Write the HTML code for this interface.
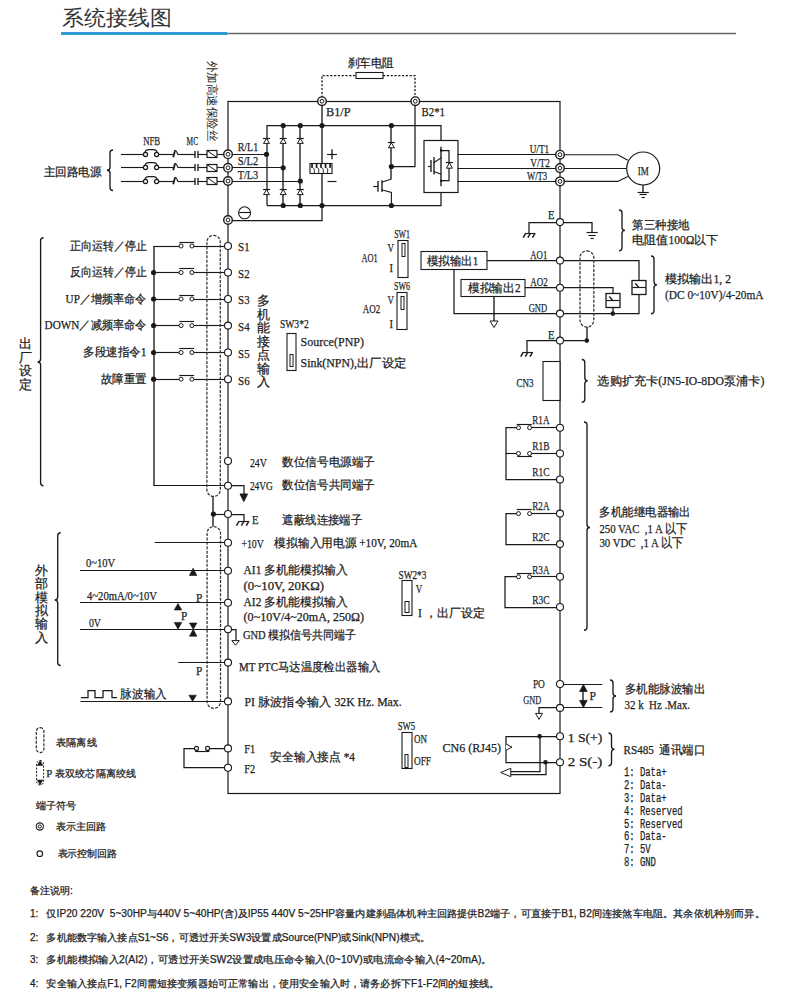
<!DOCTYPE html>
<html><head><meta charset="utf-8"><title>系统接线图</title>
<style>html,body{margin:0;padding:0;background:#fff;} svg{display:block;} text{white-space:pre;}</style>
</head><body>
<svg width="794" height="1003" viewBox="0 0 794 1003">
<rect width="794" height="1003" fill="#fff"/>
<text x="62.3" y="25.2" font-family="Liberation Sans, serif" font-size="20.5" fill="#333" text-anchor="start" font-weight="500" textLength="109.5" lengthAdjust="spacingAndGlyphs" >系统接线图</text>
<rect x="61" y="32" width="166" height="3" fill="#2d9ad6"/>
<line x1="227" y1="33.5" x2="736" y2="33.5" stroke="#666" stroke-width="1.3" />
<rect x="228" y="101.5" width="332" height="692" rx="0" stroke="#1a1a1a" stroke-width="1.2" fill="none" />
<text x="347.5" y="66.8" font-family="Liberation Serif, serif" font-size="12" fill="#1e1e1e" text-anchor="start" font-weight="500" stroke="#1e1e1e" stroke-width="0.25" textLength="46.5" lengthAdjust="spacingAndGlyphs" >刹车电阻</text>
<path d="M 322,101.5 V 75.5 H 356 M 383,75.5 H 415 V 101.5" stroke="#1a1a1a" stroke-width="1.25" fill="none" stroke-linejoin="miter" stroke-dasharray="2.2,1.6"/>
<rect x="356" y="72.5" width="27" height="6" rx="0" stroke="#1a1a1a" stroke-width="1.1" fill="#fff" />
<line x1="121" y1="154.5" x2="143.3" y2="154.5" stroke="#1a1a1a" stroke-width="1.15" />
<circle cx="145.5" cy="154.5" r="2.1" stroke="#1a1a1a" stroke-width="1.2" fill="#fff"/>
<circle cx="156.6" cy="154.5" r="2.1" stroke="#1a1a1a" stroke-width="1.2" fill="#fff"/>
<path d="M144.9,152.4 Q145.8,149.6 148.6,149.6 L153.4,149.6 Q156.3,149.6 157.2,152.4" stroke="#1a1a1a" stroke-width="1.2" fill="none" stroke-linejoin="miter" />
<line x1="158.7" y1="154.5" x2="173" y2="154.5" stroke="#1a1a1a" stroke-width="1.15" />
<path d="M173.2,157.3 L175.1,150.3" stroke="#1a1a1a" stroke-width="1.8" fill="none" stroke-linejoin="miter" />
<path d="M175.1,150.3 Q176.3,150.3 177.8,154.5" stroke="#1a1a1a" stroke-width="1.1" fill="none" stroke-linejoin="miter" />
<line x1="177.8" y1="154.5" x2="195.2" y2="154.5" stroke="#1a1a1a" stroke-width="1.15" />
<line x1="195" y1="150.9" x2="195" y2="158.1" stroke="#1a1a1a" stroke-width="1.35" />
<line x1="198" y1="150.9" x2="198" y2="158.1" stroke="#1a1a1a" stroke-width="1.35" />
<line x1="198.2" y1="154.5" x2="207.4" y2="154.5" stroke="#1a1a1a" stroke-width="1.15" />
<rect x="207" y="150.5" width="10" height="7" rx="0" stroke="#1a1a1a" stroke-width="1.2" fill="#fff" />
<line x1="207" y1="150.5" x2="217" y2="157.5" stroke="#1a1a1a" stroke-width="1.0" />
<line x1="217.4" y1="154.5" x2="224" y2="154.5" stroke="#1a1a1a" stroke-width="1.15" />
<line x1="121" y1="167.5" x2="143.3" y2="167.5" stroke="#1a1a1a" stroke-width="1.15" />
<circle cx="145.5" cy="167.5" r="2.1" stroke="#1a1a1a" stroke-width="1.2" fill="#fff"/>
<circle cx="156.6" cy="167.5" r="2.1" stroke="#1a1a1a" stroke-width="1.2" fill="#fff"/>
<path d="M144.9,165.4 Q145.8,162.6 148.6,162.6 L153.4,162.6 Q156.3,162.6 157.2,165.4" stroke="#1a1a1a" stroke-width="1.2" fill="none" stroke-linejoin="miter" />
<line x1="158.7" y1="167.5" x2="173" y2="167.5" stroke="#1a1a1a" stroke-width="1.15" />
<path d="M173.2,170.3 L175.1,163.3" stroke="#1a1a1a" stroke-width="1.8" fill="none" stroke-linejoin="miter" />
<path d="M175.1,163.3 Q176.3,163.3 177.8,167.5" stroke="#1a1a1a" stroke-width="1.1" fill="none" stroke-linejoin="miter" />
<line x1="177.8" y1="167.5" x2="195.2" y2="167.5" stroke="#1a1a1a" stroke-width="1.15" />
<line x1="195" y1="163.9" x2="195" y2="171.1" stroke="#1a1a1a" stroke-width="1.35" />
<line x1="198" y1="163.9" x2="198" y2="171.1" stroke="#1a1a1a" stroke-width="1.35" />
<line x1="198.2" y1="167.5" x2="207.4" y2="167.5" stroke="#1a1a1a" stroke-width="1.15" />
<rect x="207" y="164.5" width="10" height="7" rx="0" stroke="#1a1a1a" stroke-width="1.2" fill="#fff" />
<line x1="207" y1="164.5" x2="217" y2="171.5" stroke="#1a1a1a" stroke-width="1.0" />
<line x1="217.4" y1="167.5" x2="224" y2="167.5" stroke="#1a1a1a" stroke-width="1.15" />
<line x1="121" y1="181.5" x2="143.3" y2="181.5" stroke="#1a1a1a" stroke-width="1.15" />
<circle cx="145.5" cy="181.5" r="2.1" stroke="#1a1a1a" stroke-width="1.2" fill="#fff"/>
<circle cx="156.6" cy="181.5" r="2.1" stroke="#1a1a1a" stroke-width="1.2" fill="#fff"/>
<path d="M144.9,179.4 Q145.8,176.6 148.6,176.6 L153.4,176.6 Q156.3,176.6 157.2,179.4" stroke="#1a1a1a" stroke-width="1.2" fill="none" stroke-linejoin="miter" />
<line x1="158.7" y1="181.5" x2="173" y2="181.5" stroke="#1a1a1a" stroke-width="1.15" />
<path d="M173.2,184.3 L175.1,177.3" stroke="#1a1a1a" stroke-width="1.8" fill="none" stroke-linejoin="miter" />
<path d="M175.1,177.3 Q176.3,177.3 177.8,181.5" stroke="#1a1a1a" stroke-width="1.1" fill="none" stroke-linejoin="miter" />
<line x1="177.8" y1="181.5" x2="195.2" y2="181.5" stroke="#1a1a1a" stroke-width="1.15" />
<line x1="195" y1="177.9" x2="195" y2="185.1" stroke="#1a1a1a" stroke-width="1.35" />
<line x1="198" y1="177.9" x2="198" y2="185.1" stroke="#1a1a1a" stroke-width="1.35" />
<line x1="198.2" y1="181.5" x2="207.4" y2="181.5" stroke="#1a1a1a" stroke-width="1.15" />
<rect x="207" y="177.5" width="10" height="7" rx="0" stroke="#1a1a1a" stroke-width="1.2" fill="#fff" />
<line x1="207" y1="177.5" x2="217" y2="184.5" stroke="#1a1a1a" stroke-width="1.0" />
<line x1="217.4" y1="181.5" x2="224" y2="181.5" stroke="#1a1a1a" stroke-width="1.15" />
<text x="143.2" y="144.7" font-family="Liberation Serif, serif" font-size="13" fill="#1e1e1e" text-anchor="start" font-weight="500" stroke="#1e1e1e" stroke-width="0.25" textLength="17" lengthAdjust="spacingAndGlyphs" >NFB</text>
<text x="186.6" y="144.7" font-family="Liberation Serif, serif" font-size="13" fill="#1e1e1e" text-anchor="start" font-weight="500" stroke="#1e1e1e" stroke-width="0.25" textLength="11.5" lengthAdjust="spacingAndGlyphs" >MC</text>
<text x="43.5" y="175.5" font-family="Liberation Serif, serif" font-size="12" fill="#1e1e1e" text-anchor="start" font-weight="500" stroke="#1e1e1e" stroke-width="0.25" textLength="58" lengthAdjust="spacingAndGlyphs" >主回路电源</text>
<path d="M113,150 Q110,150 110,153 L110,167.25 Q110,170.25 107,170.25 Q110,170.25 110,173.25 L110,187.5 Q110,190.5 113,190.5" stroke="#1a1a1a" stroke-width="1.35" fill="none" stroke-linejoin="miter" />
<text x="0" y="0" font-family="Liberation Serif, serif" font-size="11.8" fill="#1e1e1e" textLength="81" lengthAdjust="spacingAndGlyphs" transform="translate(208.2,60.5) rotate(90)">外加高速保险丝</text>
<line x1="228" y1="154.5" x2="266.5" y2="154.5" stroke="#1a1a1a" stroke-width="1.15" />
<line x1="228" y1="167.5" x2="283.2" y2="167.5" stroke="#1a1a1a" stroke-width="1.15" />
<line x1="228" y1="181.5" x2="300.3" y2="181.5" stroke="#1a1a1a" stroke-width="1.15" />
<path d="M 267,205.5 V 125.5 H 441 V 140.5" stroke="#1a1a1a" stroke-width="1.25" fill="none" stroke-linejoin="miter" />
<path d="M 267,205.5 H 441 V 192.5" stroke="#1a1a1a" stroke-width="1.25" fill="none" stroke-linejoin="miter" />
<line x1="283" y1="125.5" x2="283" y2="205.5" stroke="#1a1a1a" stroke-width="1.35" />
<line x1="300" y1="125.5" x2="300" y2="205.5" stroke="#1a1a1a" stroke-width="1.35" />
<line x1="322" y1="101" x2="322" y2="205.5" stroke="#1a1a1a" stroke-width="1.35" />
<path d="M263.5,143.4 L269.5,143.4 L266.5,138.4 Z" stroke="#1a1a1a" stroke-width="1.0" fill="#fff" stroke-linejoin="miter" />
<line x1="263" y1="138.5" x2="270" y2="138.5" stroke="#1a1a1a" stroke-width="1.15" />
<path d="M263.5,194.6 L269.5,194.6 L266.5,189.6 Z" stroke="#1a1a1a" stroke-width="1.0" fill="#fff" stroke-linejoin="miter" />
<line x1="263" y1="189.5" x2="270" y2="189.5" stroke="#1a1a1a" stroke-width="1.15" />
<path d="M280.2,143.4 L286.2,143.4 L283.2,138.4 Z" stroke="#1a1a1a" stroke-width="1.0" fill="#fff" stroke-linejoin="miter" />
<line x1="279.7" y1="138.5" x2="286.7" y2="138.5" stroke="#1a1a1a" stroke-width="1.15" />
<path d="M280.2,194.6 L286.2,194.6 L283.2,189.6 Z" stroke="#1a1a1a" stroke-width="1.0" fill="#fff" stroke-linejoin="miter" />
<line x1="279.7" y1="189.5" x2="286.7" y2="189.5" stroke="#1a1a1a" stroke-width="1.15" />
<path d="M297.3,143.4 L303.3,143.4 L300.3,138.4 Z" stroke="#1a1a1a" stroke-width="1.0" fill="#fff" stroke-linejoin="miter" />
<line x1="296.8" y1="138.5" x2="303.8" y2="138.5" stroke="#1a1a1a" stroke-width="1.15" />
<path d="M297.3,194.6 L303.3,194.6 L300.3,189.6 Z" stroke="#1a1a1a" stroke-width="1.0" fill="#fff" stroke-linejoin="miter" />
<line x1="296.8" y1="189.5" x2="303.8" y2="189.5" stroke="#1a1a1a" stroke-width="1.15" />
<circle cx="283.2" cy="125.5" r="2.6" fill="#1a1a1a"/>
<circle cx="283.2" cy="205.5" r="2.6" fill="#1a1a1a"/>
<circle cx="300.3" cy="125.5" r="2.6" fill="#1a1a1a"/>
<circle cx="300.3" cy="205.5" r="2.6" fill="#1a1a1a"/>
<circle cx="322" cy="125.5" r="2.6" fill="#1a1a1a"/>
<circle cx="322" cy="205.5" r="2.6" fill="#1a1a1a"/>
<circle cx="391.4" cy="125.5" r="2.6" fill="#1a1a1a"/>
<circle cx="391.4" cy="205.5" r="2.6" fill="#1a1a1a"/>
<circle cx="266.5" cy="154.3" r="2.6" fill="#1a1a1a"/>
<circle cx="283.2" cy="167.8" r="2.6" fill="#1a1a1a"/>
<circle cx="300.3" cy="181.0" r="2.6" fill="#1a1a1a"/>
<text x="237.7" y="151.2" font-family="Liberation Serif, serif" font-size="13" fill="#1e1e1e" text-anchor="start" font-weight="500" stroke="#1e1e1e" stroke-width="0.25" textLength="20.5" lengthAdjust="spacingAndGlyphs" >R/L1</text>
<text x="237.7" y="164.9" font-family="Liberation Serif, serif" font-size="13" fill="#1e1e1e" text-anchor="start" font-weight="500" stroke="#1e1e1e" stroke-width="0.25" textLength="20.5" lengthAdjust="spacingAndGlyphs" >S/L2</text>
<text x="237.7" y="178.5" font-family="Liberation Serif, serif" font-size="13" fill="#1e1e1e" text-anchor="start" font-weight="500" stroke="#1e1e1e" stroke-width="0.25" textLength="20.5" lengthAdjust="spacingAndGlyphs" >T/L3</text>
<rect x="310" y="163.5" width="22" height="10" rx="0" stroke="#1a1a1a" stroke-width="1.1" fill="#fff" />
<rect x="311.20" y="163.5" width="1.7" height="4.4" fill="#1a1a1a"/>
<rect x="315.70" y="163.5" width="1.7" height="4.4" fill="#1a1a1a"/>
<rect x="320.20" y="163.5" width="1.7" height="4.4" fill="#1a1a1a"/>
<rect x="324.70" y="163.5" width="1.7" height="4.4" fill="#1a1a1a"/>
<rect x="329.20" y="163.5" width="1.7" height="4.4" fill="#1a1a1a"/>
<path d="M313.10,167.6 L314.30,169.2 L314.30,173.3" stroke="#1a1a1a" stroke-width="0.9" fill="none" stroke-linejoin="miter" />
<path d="M317.55,167.6 L318.75,169.2 L318.75,173.3" stroke="#1a1a1a" stroke-width="0.9" fill="none" stroke-linejoin="miter" />
<path d="M322.00,167.6 L323.20,169.2 L323.20,173.3" stroke="#1a1a1a" stroke-width="0.9" fill="none" stroke-linejoin="miter" />
<path d="M326.45,167.6 L327.65,169.2 L327.65,173.3" stroke="#1a1a1a" stroke-width="0.9" fill="none" stroke-linejoin="miter" />
<line x1="327" y1="154.5" x2="337" y2="154.5" stroke="#1a1a1a" stroke-width="1.15" />
<line x1="332" y1="149.3" x2="332" y2="159.3" stroke="#1a1a1a" stroke-width="1.35" />
<line x1="327.5" y1="181.5" x2="336.5" y2="181.5" stroke="#1a1a1a" stroke-width="1.15" />
<circle cx="244.6" cy="212.8" r="6" stroke="#1a1a1a" stroke-width="1.1" fill="none"/>
<line x1="239.2" y1="212.5" x2="250" y2="212.5" stroke="#1a1a1a" stroke-width="1.15" />
<path d="M 228,220.5 H 322 V 205.5" stroke="#1a1a1a" stroke-width="1.25" fill="none" stroke-linejoin="miter" />
<line x1="391" y1="125.5" x2="391" y2="179.1" stroke="#1a1a1a" stroke-width="1.35" />
<path d="M388.4,147.8 L394.4,147.8 L391.4,142.8 Z" stroke="#1a1a1a" stroke-width="1.0" fill="#fff" stroke-linejoin="miter" />
<line x1="387.9" y1="142.5" x2="394.9" y2="142.5" stroke="#1a1a1a" stroke-width="1.15" />
<circle cx="391.4" cy="166.5" r="2.6" fill="#1a1a1a"/>
<path d="M 391,166.5 H 415 V 101.5" stroke="#1a1a1a" stroke-width="1.25" fill="none" stroke-linejoin="miter" />
<path d="M391.4,179.1 L381.6,182.2" stroke="#1a1a1a" stroke-width="1.1" fill="none" stroke-linejoin="miter" />
<path d="M381.6,189.8 L391.4,192.4 V205.5" stroke="#1a1a1a" stroke-width="1.1" fill="none" stroke-linejoin="miter" />
<line x1="382" y1="180.3" x2="382" y2="192" stroke="#1a1a1a" stroke-width="1.35" />
<line x1="378" y1="181" x2="378" y2="191.7" stroke="#1a1a1a" stroke-width="1.35" />
<line x1="373.2" y1="186.5" x2="378.3" y2="186.5" stroke="#1a1a1a" stroke-width="1.15" />
<rect x="424" y="140.5" width="34" height="52" rx="0" stroke="#1a1a1a" stroke-width="1.2" fill="#fff" />
<line x1="441" y1="146.8" x2="441" y2="186.2" stroke="#1a1a1a" stroke-width="1.35" />
<line x1="434" y1="157" x2="434" y2="174.5" stroke="#1a1a1a" stroke-width="1.35" />
<line x1="431" y1="160" x2="431" y2="172" stroke="#1a1a1a" stroke-width="1.35" />
<line x1="428" y1="166.5" x2="430.6" y2="166.5" stroke="#1a1a1a" stroke-width="1.15" />
<line x1="433.6" y1="162.7" x2="441.2" y2="157.7" stroke="#1a1a1a" stroke-width="1.1" />
<line x1="433.6" y1="171.5" x2="441.2" y2="174.2" stroke="#1a1a1a" stroke-width="1.1" />
<circle cx="441.2" cy="150.5" r="1.3" fill="#1a1a1a"/><circle cx="441.2" cy="180.8" r="1.3" fill="#1a1a1a"/>
<path d="M 441,150.5 H 449 V 180.5 H 441" stroke="#1a1a1a" stroke-width="1.25" fill="none" stroke-linejoin="miter" />
<path d="M446.4,168.2 L452.4,168.2 L449.4,162.7 Z" stroke="#1a1a1a" stroke-width="1.0" fill="#fff" stroke-linejoin="miter" />
<line x1="445.9" y1="162.5" x2="452.9" y2="162.5" stroke="#1a1a1a" stroke-width="1.15" />
<line x1="457.6" y1="154.5" x2="560" y2="154.5" stroke="#1a1a1a" stroke-width="1.15" />
<line x1="457.6" y1="168.5" x2="560" y2="168.5" stroke="#1a1a1a" stroke-width="1.15" />
<line x1="457.6" y1="181.5" x2="560" y2="181.5" stroke="#1a1a1a" stroke-width="1.15" />
<circle cx="228" cy="154.3" r="4.3" stroke="#1a1a1a" stroke-width="1.4" fill="#fff"/>
<circle cx="228" cy="154.3" r="1.9" stroke="#1a1a1a" stroke-width="1.0" fill="#fff"/>
<circle cx="228" cy="167.8" r="4.3" stroke="#1a1a1a" stroke-width="1.4" fill="#fff"/>
<circle cx="228" cy="167.8" r="1.9" stroke="#1a1a1a" stroke-width="1.0" fill="#fff"/>
<circle cx="228" cy="181.0" r="4.3" stroke="#1a1a1a" stroke-width="1.4" fill="#fff"/>
<circle cx="228" cy="181.0" r="1.9" stroke="#1a1a1a" stroke-width="1.0" fill="#fff"/>
<circle cx="228" cy="220" r="4.3" stroke="#1a1a1a" stroke-width="1.4" fill="#fff"/>
<circle cx="228" cy="220" r="1.9" stroke="#1a1a1a" stroke-width="1.0" fill="#fff"/>
<circle cx="322" cy="101.2" r="4.3" stroke="#1a1a1a" stroke-width="1.4" fill="#fff"/>
<circle cx="322" cy="101.2" r="1.9" stroke="#1a1a1a" stroke-width="1.0" fill="#fff"/>
<circle cx="415.3" cy="101.2" r="4.3" stroke="#1a1a1a" stroke-width="1.4" fill="#fff"/>
<circle cx="415.3" cy="101.2" r="1.9" stroke="#1a1a1a" stroke-width="1.0" fill="#fff"/>
<circle cx="560" cy="154.7" r="4.3" stroke="#1a1a1a" stroke-width="1.4" fill="#fff"/>
<circle cx="560" cy="154.7" r="1.9" stroke="#1a1a1a" stroke-width="1.0" fill="#fff"/>
<circle cx="560" cy="168.1" r="4.3" stroke="#1a1a1a" stroke-width="1.4" fill="#fff"/>
<circle cx="560" cy="168.1" r="1.9" stroke="#1a1a1a" stroke-width="1.0" fill="#fff"/>
<circle cx="560" cy="181.4" r="4.3" stroke="#1a1a1a" stroke-width="1.4" fill="#fff"/>
<circle cx="560" cy="181.4" r="1.9" stroke="#1a1a1a" stroke-width="1.0" fill="#fff"/>
<text x="326" y="116.2" font-family="Liberation Serif, serif" font-size="13.5" fill="#1e1e1e" text-anchor="start" font-weight="500" stroke="#1e1e1e" stroke-width="0.25" textLength="24.6" lengthAdjust="spacingAndGlyphs" >B1/P</text>
<text x="421.5" y="116.2" font-family="Liberation Serif, serif" font-size="13" fill="#1e1e1e" text-anchor="start" font-weight="500" stroke="#1e1e1e" stroke-width="0.25" textLength="23.5" lengthAdjust="spacingAndGlyphs" >B2*1</text>
<text x="529.7" y="153.1" font-family="Liberation Serif, serif" font-size="13" fill="#1e1e1e" text-anchor="start" font-weight="500" stroke="#1e1e1e" stroke-width="0.25" textLength="19.5" lengthAdjust="spacingAndGlyphs" >U/T1</text>
<text x="530.2" y="166.7" font-family="Liberation Serif, serif" font-size="13" fill="#1e1e1e" text-anchor="start" font-weight="500" stroke="#1e1e1e" stroke-width="0.25" textLength="19.7" lengthAdjust="spacingAndGlyphs" >V/T2</text>
<text x="527" y="179.8" font-family="Liberation Serif, serif" font-size="13" fill="#1e1e1e" text-anchor="start" font-weight="500" stroke="#1e1e1e" stroke-width="0.25" textLength="20.2" lengthAdjust="spacingAndGlyphs" >W/T3</text>
<path d="M564.2,154.7 H617.7 L627.8,160.2" stroke="#1a1a1a" stroke-width="1.1" fill="none" stroke-linejoin="miter" />
<line x1="564.2" y1="168.5" x2="626.7" y2="168.5" stroke="#1a1a1a" stroke-width="1.15" />
<path d="M564.2,181.4 H617.7 L627.8,176.6" stroke="#1a1a1a" stroke-width="1.1" fill="none" stroke-linejoin="miter" />
<circle cx="643.2" cy="168.5" r="16.5" stroke="#1a1a1a" stroke-width="1.2" fill="#fff"/>
<text x="643.2" y="174.8" font-family="Liberation Serif, serif" font-size="13.5" fill="#1e1e1e" text-anchor="middle" font-weight="500" stroke="#1e1e1e" stroke-width="0.25" textLength="11" lengthAdjust="spacingAndGlyphs" >IM</text>
<line x1="643" y1="185" x2="643" y2="192" stroke="#1a1a1a" stroke-width="1.35" />
<line x1="637.6" y1="192.5" x2="648.8" y2="192.5" stroke="#1a1a1a" stroke-width="1.15" />
<line x1="639.6" y1="194.5" x2="646.8" y2="194.5" stroke="#1a1a1a" stroke-width="1.15" />
<line x1="641.6" y1="197.5" x2="644.8" y2="197.5" stroke="#1a1a1a" stroke-width="1.15" />
<path d="M 529,233.5 V 222.5 H 592 V 232.5" stroke="#1a1a1a" stroke-width="1.25" fill="none" stroke-linejoin="miter" />
<line x1="525.1" y1="233.5" x2="535.4" y2="233.5" stroke="#1a1a1a" stroke-width="1.15" />
<line x1="525.6" y1="233.5" x2="523.2" y2="237.7" stroke="#1a1a1a" stroke-width="1.5" />
<line x1="530.25" y1="233.5" x2="527.85" y2="237.7" stroke="#1a1a1a" stroke-width="1.5" />
<line x1="534.9" y1="233.5" x2="532.5" y2="237.7" stroke="#1a1a1a" stroke-width="1.5" />
<line x1="586.5" y1="232.5" x2="597.7" y2="232.5" stroke="#1a1a1a" stroke-width="1.15" />
<line x1="588.5" y1="235.5" x2="595.7" y2="235.5" stroke="#1a1a1a" stroke-width="1.15" />
<line x1="590.5" y1="238.5" x2="593.7" y2="238.5" stroke="#1a1a1a" stroke-width="1.15" />
<circle cx="560" cy="222.1" r="3.5" stroke="#1a1a1a" stroke-width="1.1" fill="#fff"/>
<text x="547.9" y="218.7" font-family="Liberation Serif, serif" font-size="13" fill="#1e1e1e" text-anchor="start" font-weight="500" stroke="#1e1e1e" stroke-width="0.25" textLength="6.5" lengthAdjust="spacingAndGlyphs" >E</text>
<path d="M619,210 Q622,210 622,213 L622,227.4 Q622,230.4 625,230.4 Q622,230.4 622,233.4 L622,247.8 Q622,250.8 619,250.8" stroke="#1a1a1a" stroke-width="1.35" fill="none" stroke-linejoin="miter" />
<text x="632.4" y="228.6" font-family="Liberation Serif, serif" font-size="11.5" fill="#1e1e1e" text-anchor="start" font-weight="500" stroke="#1e1e1e" stroke-width="0.25" textLength="57" lengthAdjust="spacingAndGlyphs" >第三种接地</text>
<text x="632.4" y="244.1" font-family="Liberation Serif, serif" font-size="11.5" fill="#1e1e1e" text-anchor="start" font-weight="500" stroke="#1e1e1e" stroke-width="0.25" textLength="86" lengthAdjust="spacingAndGlyphs" >电阻值100Ω以下</text>
<rect x="421" y="251.5" width="66" height="18" rx="0" stroke="#1a1a1a" stroke-width="1.1" fill="#fff" />
<text x="426.8" y="264.7" font-family="Liberation Serif, serif" font-size="11.5" fill="#1e1e1e" text-anchor="start" font-weight="500" stroke="#1e1e1e" stroke-width="0.25" textLength="51.5" lengthAdjust="spacingAndGlyphs" >模拟输出1</text>
<rect x="461" y="279.5" width="64" height="17" rx="0" stroke="#1a1a1a" stroke-width="1.1" fill="#fff" />
<text x="468" y="292.0" font-family="Liberation Serif, serif" font-size="11.5" fill="#1e1e1e" text-anchor="start" font-weight="500" stroke="#1e1e1e" stroke-width="0.25" textLength="52.5" lengthAdjust="spacingAndGlyphs" >模拟输出2</text>
<path d="M 487,260.5 H 639 V 280.5 M 639,294.5 V 313.5 H 454 V 269.5" stroke="#1a1a1a" stroke-width="1.25" fill="none" stroke-linejoin="miter" />
<path d="M 525,287.5 H 613 V 293.5 M 613,307.5 V 313.5" stroke="#1a1a1a" stroke-width="1.25" fill="none" stroke-linejoin="miter" />
<circle cx="612.8" cy="313.6" r="2.3" fill="#1a1a1a"/>
<rect x="632" y="280.5" width="14" height="14" rx="0" stroke="#1a1a1a" stroke-width="1.3" fill="#fff" />
<line x1="632.4" y1="287.5" x2="645.7" y2="287.5" stroke="#1a1a1a" stroke-width="1.15" />
<path d="M635.3,283.2 L639.0,287.585" stroke="#1a1a1a" stroke-width="1.4" fill="none" stroke-linejoin="miter" />
<rect x="606" y="293.5" width="14" height="14" rx="0" stroke="#1a1a1a" stroke-width="1.3" fill="#fff" />
<line x1="606.3" y1="300.5" x2="619.6" y2="300.5" stroke="#1a1a1a" stroke-width="1.15" />
<path d="M609.1999999999999,296.4 L612.9,300.78499999999997" stroke="#1a1a1a" stroke-width="1.4" fill="none" stroke-linejoin="miter" />
<line x1="494" y1="296.6" x2="494" y2="321" stroke="#1a1a1a" stroke-width="1.35" />
<path d="M490.0,321 L498.0,321 L494,327.5 Z" stroke="#1a1a1a" stroke-width="1.0" fill="#fff" stroke-linejoin="miter" />
<circle cx="560" cy="260.6" r="3.5" stroke="#1a1a1a" stroke-width="1.1" fill="#fff"/>
<circle cx="560" cy="287.8" r="3.5" stroke="#1a1a1a" stroke-width="1.1" fill="#fff"/>
<circle cx="560" cy="313.6" r="3.5" stroke="#1a1a1a" stroke-width="1.1" fill="#fff"/>
<text x="530.3" y="259.2" font-family="Liberation Serif, serif" font-size="13" fill="#1e1e1e" text-anchor="start" font-weight="500" stroke="#1e1e1e" stroke-width="0.25" textLength="17" lengthAdjust="spacingAndGlyphs" >AO1</text>
<text x="530.3" y="286.2" font-family="Liberation Serif, serif" font-size="13" fill="#1e1e1e" text-anchor="start" font-weight="500" stroke="#1e1e1e" stroke-width="0.25" textLength="17.5" lengthAdjust="spacingAndGlyphs" >AO2</text>
<text x="528.7" y="311.5" font-family="Liberation Serif, serif" font-size="13" fill="#1e1e1e" text-anchor="start" font-weight="500" stroke="#1e1e1e" stroke-width="0.25" textLength="18.5" lengthAdjust="spacingAndGlyphs" >GND</text>
<rect x="580" y="250.8" width="13.8" height="76.2" rx="6.899999999999977" stroke="#333" stroke-width="1.25" fill="none" stroke-dasharray="3,1.4"/>
<line x1="587" y1="327" x2="587" y2="340.6" stroke="#1a1a1a" stroke-width="1.35" />
<path d="M651,256 Q654,256 654,259 L654,281.85 Q654,284.85 657,284.85 Q654,284.85 654,287.85 L654,310.7 Q654,313.7 651,313.7" stroke="#1a1a1a" stroke-width="1.35" fill="none" stroke-linejoin="miter" />
<text x="665" y="282.6" font-family="Liberation Serif, serif" font-size="11.5" fill="#1e1e1e" text-anchor="start" font-weight="500" stroke="#1e1e1e" stroke-width="0.25" textLength="66" lengthAdjust="spacingAndGlyphs" >模拟输出1, 2</text>
<text x="665" y="299.3" font-family="Liberation Serif, serif" font-size="13.5" fill="#1e1e1e" text-anchor="start" font-weight="500" stroke="#1e1e1e" stroke-width="0.25" textLength="98.5" lengthAdjust="spacingAndGlyphs" >(DC 0~10V)/4-20mA</text>
<text x="394.2" y="237.6" font-family="Liberation Serif, serif" font-size="12.5" fill="#1e1e1e" text-anchor="start" font-weight="500" stroke="#1e1e1e" stroke-width="0.25" textLength="15.7" lengthAdjust="spacingAndGlyphs" >SW1</text>
<rect x="398" y="240.5" width="10" height="37" rx="0" stroke="#1a1a1a" stroke-width="1.1" fill="#fff" />
<rect x="402" y="243.5" width="3" height="13" rx="0" stroke="#1a1a1a" stroke-width="1.0" fill="#fff" />
<text x="387.5" y="251.5" font-family="Liberation Serif, serif" font-size="13.5" fill="#1e1e1e" text-anchor="start" font-weight="500" stroke="#1e1e1e" stroke-width="0.25" textLength="6.5" lengthAdjust="spacingAndGlyphs" >V</text>
<text x="389.5" y="272.3" font-family="Liberation Serif, serif" font-size="12.5" fill="#1e1e1e" text-anchor="start" font-weight="500" stroke="#1e1e1e" stroke-width="0.25" textLength="3.5" lengthAdjust="spacingAndGlyphs" >I</text>
<text x="361.4" y="261.6" font-family="Liberation Serif, serif" font-size="13" fill="#1e1e1e" text-anchor="start" font-weight="500" stroke="#1e1e1e" stroke-width="0.25" textLength="16.3" lengthAdjust="spacingAndGlyphs" >AO1</text>
<text x="394" y="290" font-family="Liberation Serif, serif" font-size="12.5" fill="#1e1e1e" text-anchor="start" font-weight="500" stroke="#1e1e1e" stroke-width="0.25" textLength="16" lengthAdjust="spacingAndGlyphs" >SW6</text>
<rect x="397" y="292.5" width="10" height="37" rx="0" stroke="#1a1a1a" stroke-width="1.1" fill="#fff" />
<rect x="401" y="296.5" width="3" height="13" rx="0" stroke="#1a1a1a" stroke-width="1.0" fill="#fff" />
<text x="387.5" y="303.8" font-family="Liberation Serif, serif" font-size="13.5" fill="#1e1e1e" text-anchor="start" font-weight="500" stroke="#1e1e1e" stroke-width="0.25" textLength="6.5" lengthAdjust="spacingAndGlyphs" >V</text>
<text x="389.5" y="328.3" font-family="Liberation Serif, serif" font-size="12.5" fill="#1e1e1e" text-anchor="start" font-weight="500" stroke="#1e1e1e" stroke-width="0.25" textLength="3.5" lengthAdjust="spacingAndGlyphs" >I</text>
<text x="362.7" y="313.2" font-family="Liberation Serif, serif" font-size="13" fill="#1e1e1e" text-anchor="start" font-weight="500" stroke="#1e1e1e" stroke-width="0.25" textLength="17.5" lengthAdjust="spacingAndGlyphs" >AO2</text>
<path d="M 527,352.5 V 340.5 H 587" stroke="#1a1a1a" stroke-width="1.25" fill="none" stroke-linejoin="miter" />
<circle cx="586.8" cy="340.6" r="2.3" fill="#1a1a1a"/>
<line x1="522.6" y1="352.5" x2="532.9" y2="352.5" stroke="#1a1a1a" stroke-width="1.15" />
<line x1="523.1" y1="352.5" x2="520.7" y2="356.7" stroke="#1a1a1a" stroke-width="1.5" />
<line x1="527.75" y1="352.5" x2="525.35" y2="356.7" stroke="#1a1a1a" stroke-width="1.5" />
<line x1="532.4" y1="352.5" x2="530" y2="356.7" stroke="#1a1a1a" stroke-width="1.5" />
<circle cx="560" cy="340.6" r="3.5" stroke="#1a1a1a" stroke-width="1.1" fill="#fff"/>
<text x="548" y="338.6" font-family="Liberation Serif, serif" font-size="13" fill="#1e1e1e" text-anchor="start" font-weight="500" stroke="#1e1e1e" stroke-width="0.25" textLength="6.5" lengthAdjust="spacingAndGlyphs" >E</text>
<rect x="543" y="361.5" width="17" height="39" rx="0" stroke="#1a1a1a" stroke-width="1.1" fill="#fff" />
<text x="516.4" y="387.2" font-family="Liberation Serif, serif" font-size="13" fill="#1e1e1e" text-anchor="start" font-weight="500" stroke="#1e1e1e" stroke-width="0.25" textLength="17" lengthAdjust="spacingAndGlyphs" >CN3</text>
<path d="M581.8,359.5 Q584.8,359.5 584.8,362.5 L584.8,377.85 Q584.8,380.85 587.8,380.85 Q584.8,380.85 584.8,383.85 L584.8,399.2 Q584.8,402.2 581.8,402.2" stroke="#1a1a1a" stroke-width="1.35" fill="none" stroke-linejoin="miter" />
<text x="597.4" y="385.4" font-family="Liberation Serif, serif" font-size="11.5" fill="#1e1e1e" text-anchor="start" font-weight="500" stroke="#1e1e1e" stroke-width="0.25" textLength="167" lengthAdjust="spacingAndGlyphs" >选购扩充卡(JN5-IO-8DO泵浦卡)</text>
<path d="M 517,427.5 H 506 V 479.5 H 557" stroke="#1a1a1a" stroke-width="1.25" fill="none" stroke-linejoin="miter" />
<circle cx="518.5" cy="427.7" r="2.0" stroke="#1a1a1a" stroke-width="1.0" fill="#fff"/>
<circle cx="529.6" cy="427.7" r="2.0" stroke="#1a1a1a" stroke-width="1.0" fill="#fff"/>
<line x1="516.7" y1="424.5" x2="531.8" y2="424.5" stroke="#1a1a1a" stroke-width="1.15" />
<line x1="531.6" y1="427.5" x2="556.5" y2="427.5" stroke="#1a1a1a" stroke-width="1.15" />
<line x1="505.8" y1="453.5" x2="516.5" y2="453.5" stroke="#1a1a1a" stroke-width="1.15" />
<circle cx="518.5" cy="453.5" r="2.0" stroke="#1a1a1a" stroke-width="1.0" fill="#fff"/>
<circle cx="529.6" cy="453.5" r="2.0" stroke="#1a1a1a" stroke-width="1.0" fill="#fff"/>
<line x1="517.2" y1="456.5" x2="531.9" y2="456.5" stroke="#1a1a1a" stroke-width="1.15" />
<line x1="531.6" y1="453.5" x2="556.5" y2="453.5" stroke="#1a1a1a" stroke-width="1.15" />
<path d="M 517,513.5 H 506 V 544.5 H 557" stroke="#1a1a1a" stroke-width="1.25" fill="none" stroke-linejoin="miter" />
<circle cx="518.5" cy="513.6" r="2.0" stroke="#1a1a1a" stroke-width="1.0" fill="#fff"/>
<circle cx="529.6" cy="513.6" r="2.0" stroke="#1a1a1a" stroke-width="1.0" fill="#fff"/>
<line x1="516.7" y1="509.5" x2="531.8" y2="509.5" stroke="#1a1a1a" stroke-width="1.15" />
<line x1="531.6" y1="513.5" x2="556.5" y2="513.5" stroke="#1a1a1a" stroke-width="1.15" />
<path d="M 517,576.5 H 505 V 607.5 H 557" stroke="#1a1a1a" stroke-width="1.25" fill="none" stroke-linejoin="miter" />
<circle cx="518.5" cy="576.8" r="2.0" stroke="#1a1a1a" stroke-width="1.0" fill="#fff"/>
<circle cx="529.6" cy="576.8" r="2.0" stroke="#1a1a1a" stroke-width="1.0" fill="#fff"/>
<line x1="516.7" y1="573.5" x2="531.8" y2="573.5" stroke="#1a1a1a" stroke-width="1.15" />
<line x1="531.6" y1="576.5" x2="556.5" y2="576.5" stroke="#1a1a1a" stroke-width="1.15" />
<circle cx="560" cy="427.7" r="3.5" stroke="#1a1a1a" stroke-width="1.1" fill="#fff"/>
<circle cx="560" cy="453.5" r="3.5" stroke="#1a1a1a" stroke-width="1.1" fill="#fff"/>
<circle cx="560" cy="479.5" r="3.5" stroke="#1a1a1a" stroke-width="1.1" fill="#fff"/>
<circle cx="560" cy="513.6" r="3.5" stroke="#1a1a1a" stroke-width="1.1" fill="#fff"/>
<circle cx="560" cy="544.1" r="3.5" stroke="#1a1a1a" stroke-width="1.1" fill="#fff"/>
<circle cx="560" cy="576.8" r="3.5" stroke="#1a1a1a" stroke-width="1.1" fill="#fff"/>
<circle cx="560" cy="607" r="3.5" stroke="#1a1a1a" stroke-width="1.1" fill="#fff"/>
<text x="532.3" y="424.4" font-family="Liberation Serif, serif" font-size="13" fill="#1e1e1e" text-anchor="start" font-weight="500" stroke="#1e1e1e" stroke-width="0.25" textLength="17.2" lengthAdjust="spacingAndGlyphs" >R1A</text>
<text x="532.3" y="450.2" font-family="Liberation Serif, serif" font-size="13" fill="#1e1e1e" text-anchor="start" font-weight="500" stroke="#1e1e1e" stroke-width="0.25" textLength="17.2" lengthAdjust="spacingAndGlyphs" >R1B</text>
<text x="532.3" y="476.2" font-family="Liberation Serif, serif" font-size="13" fill="#1e1e1e" text-anchor="start" font-weight="500" stroke="#1e1e1e" stroke-width="0.25" textLength="17.2" lengthAdjust="spacingAndGlyphs" >R1C</text>
<text x="532.3" y="510.3" font-family="Liberation Serif, serif" font-size="13" fill="#1e1e1e" text-anchor="start" font-weight="500" stroke="#1e1e1e" stroke-width="0.25" textLength="17.2" lengthAdjust="spacingAndGlyphs" >R2A</text>
<text x="532.3" y="540.8000000000001" font-family="Liberation Serif, serif" font-size="13" fill="#1e1e1e" text-anchor="start" font-weight="500" stroke="#1e1e1e" stroke-width="0.25" textLength="17.2" lengthAdjust="spacingAndGlyphs" >R2C</text>
<text x="532.3" y="573.5" font-family="Liberation Serif, serif" font-size="13" fill="#1e1e1e" text-anchor="start" font-weight="500" stroke="#1e1e1e" stroke-width="0.25" textLength="17.2" lengthAdjust="spacingAndGlyphs" >R3A</text>
<text x="532.3" y="603.7" font-family="Liberation Serif, serif" font-size="13" fill="#1e1e1e" text-anchor="start" font-weight="500" stroke="#1e1e1e" stroke-width="0.25" textLength="17.2" lengthAdjust="spacingAndGlyphs" >R3C</text>
<path d="M584,422 Q587,422 587,425 L587,524.5 Q587,527.5 590,527.5 Q587,527.5 587,530.5 L587,627.2 Q587,630.2 584,630.2" stroke="#1a1a1a" stroke-width="1.35" fill="none" stroke-linejoin="miter" />
<text x="599.4" y="516.3" font-family="Liberation Serif, serif" font-size="11.5" fill="#1e1e1e" text-anchor="start" font-weight="500" stroke="#1e1e1e" stroke-width="0.25" textLength="91.5" lengthAdjust="spacingAndGlyphs" >多机能继电器输出</text>
<text x="599.4" y="532.5" font-family="Liberation Serif, serif" font-size="12.5" fill="#1e1e1e" text-anchor="start" font-weight="500" stroke="#1e1e1e" stroke-width="0.25" textLength="88" lengthAdjust="spacingAndGlyphs" >250 VAC  ,1 A 以下</text>
<text x="599.4" y="547.2" font-family="Liberation Serif, serif" font-size="12.5" fill="#1e1e1e" text-anchor="start" font-weight="500" stroke="#1e1e1e" stroke-width="0.25" textLength="84" lengthAdjust="spacingAndGlyphs" >30 VDC  ,1 A 以下</text>
<circle cx="560" cy="684" r="3.5" stroke="#1a1a1a" stroke-width="1.1" fill="#fff"/>
<circle cx="560" cy="707.9" r="3.5" stroke="#1a1a1a" stroke-width="1.1" fill="#fff"/>
<line x1="563.5" y1="684.5" x2="602.4" y2="684.5" stroke="#1a1a1a" stroke-width="1.15" />
<line x1="563.5" y1="707.5" x2="602.4" y2="707.5" stroke="#1a1a1a" stroke-width="1.15" />
<line x1="583" y1="689" x2="583" y2="703" stroke="#1a1a1a" stroke-width="1.35" />
<path d="M583.4,684.5 L579.6,691.5 L587.2,691.5 Z" stroke="#1a1a1a" stroke-width="0.8" fill="#1a1a1a" stroke-linejoin="miter" />
<path d="M583.4,707.4 L579.6,700.4 L587.2,700.4 Z" stroke="#1a1a1a" stroke-width="0.8" fill="#1a1a1a" stroke-linejoin="miter" />
<text x="589.5" y="700.4" font-family="Liberation Serif, serif" font-size="13" fill="#1e1e1e" text-anchor="start" font-weight="500" stroke="#1e1e1e" stroke-width="0.25" textLength="6.5" lengthAdjust="spacingAndGlyphs" >P</text>
<path d="M610,680 Q613,680 613,683 L613,692.95 Q613,695.95 616,695.95 Q613,695.95 613,698.95 L613,708.9 Q613,711.9 610,711.9" stroke="#1a1a1a" stroke-width="1.35" fill="none" stroke-linejoin="miter" />
<text x="624.5" y="693.3" font-family="Liberation Serif, serif" font-size="11.5" fill="#1e1e1e" text-anchor="start" font-weight="500" stroke="#1e1e1e" stroke-width="0.25" textLength="81" lengthAdjust="spacingAndGlyphs" >多机能脉波输出</text>
<text x="624.5" y="709.0" font-family="Liberation Serif, serif" font-size="13" fill="#1e1e1e" text-anchor="start" font-weight="500" stroke="#1e1e1e" stroke-width="0.25" textLength="65.5" lengthAdjust="spacingAndGlyphs" >32 k  Hz .Max.</text>
<text x="532.9" y="688.4" font-family="Liberation Serif, serif" font-size="13" fill="#1e1e1e" text-anchor="start" font-weight="500" stroke="#1e1e1e" stroke-width="0.25" textLength="12" lengthAdjust="spacingAndGlyphs" >PO</text>
<text x="523.2" y="703.6" font-family="Liberation Serif, serif" font-size="13" fill="#1e1e1e" text-anchor="start" font-weight="500" stroke="#1e1e1e" stroke-width="0.25" textLength="18" lengthAdjust="spacingAndGlyphs" >GND</text>
<path d="M 557,707.5 H 539 V 713.5" stroke="#1a1a1a" stroke-width="1.25" fill="none" stroke-linejoin="miter" />
<path d="M535.5,713.4 L542.5,713.4 L539,719.4 Z" stroke="#1a1a1a" stroke-width="1.0" fill="#fff" stroke-linejoin="miter" />
<path d="M 557,736.5 H 506 V 762.5 H 557" stroke="#1a1a1a" stroke-width="1.25" fill="none" stroke-linejoin="miter" />
<path d="M506,744 L512,747.1 L506,750.2" stroke="#1a1a1a" stroke-width="1.0" fill="#fff" stroke-linejoin="miter" />
<circle cx="539.6" cy="736.3" r="2.3" fill="#1a1a1a"/>
<circle cx="545.5" cy="762.2" r="2.3" fill="#1a1a1a"/>
<path d="M 540,736.5 V 771.5 H 509" stroke="#1a1a1a" stroke-width="1.25" fill="none" stroke-linejoin="miter" />
<path d="M 546,762.5 V 774.5 H 509" stroke="#1a1a1a" stroke-width="1.25" fill="none" stroke-linejoin="miter" />
<path d="M510.8,768.3 L500.6,772.5 L510.8,776.7 Z" stroke="#1a1a1a" stroke-width="1.0" fill="#fff" stroke-linejoin="miter" />
<circle cx="560" cy="736.3" r="3.5" stroke="#1a1a1a" stroke-width="1.1" fill="#fff"/>
<circle cx="560" cy="762.2" r="3.5" stroke="#1a1a1a" stroke-width="1.1" fill="#fff"/>
<text x="567.7" y="742.3" font-family="Liberation Serif, serif" font-size="13" fill="#1e1e1e" text-anchor="start" font-weight="500" stroke="#1e1e1e" stroke-width="0.25" textLength="34.7" lengthAdjust="spacingAndGlyphs" >1 S(+)</text>
<text x="567.7" y="766.4" font-family="Liberation Serif, serif" font-size="13" fill="#1e1e1e" text-anchor="start" font-weight="500" stroke="#1e1e1e" stroke-width="0.25" textLength="34.7" lengthAdjust="spacingAndGlyphs" >2 S(-)</text>
<path d="M608.5,733 Q611.5,733 611.5,736 L611.5,746.35 Q611.5,749.35 614.5,749.35 Q611.5,749.35 611.5,752.35 L611.5,762.7 Q611.5,765.7 608.5,765.7" stroke="#1a1a1a" stroke-width="1.35" fill="none" stroke-linejoin="miter" />
<text x="623.6" y="754.3" font-family="Liberation Serif, serif" font-size="11.5" fill="#1e1e1e" text-anchor="start" font-weight="500" stroke="#1e1e1e" stroke-width="0.25" textLength="82" lengthAdjust="spacingAndGlyphs" >RS485  通讯端口</text>
<text x="623.9" y="776.4" font-family="Liberation Mono, serif" font-size="12.5" fill="#1e1e1e" text-anchor="start" font-weight="500" stroke="#1e1e1e" stroke-width="0.25" textLength="42.7" lengthAdjust="spacingAndGlyphs" >1: Data+</text>
<text x="623.9" y="789.1999999999999" font-family="Liberation Mono, serif" font-size="12.5" fill="#1e1e1e" text-anchor="start" font-weight="500" stroke="#1e1e1e" stroke-width="0.25" textLength="42.7" lengthAdjust="spacingAndGlyphs" >2: Data-</text>
<text x="623.9" y="802.0" font-family="Liberation Mono, serif" font-size="12.5" fill="#1e1e1e" text-anchor="start" font-weight="500" stroke="#1e1e1e" stroke-width="0.25" textLength="42.7" lengthAdjust="spacingAndGlyphs" >3: Data+</text>
<text x="623.9" y="814.8" font-family="Liberation Mono, serif" font-size="12.5" fill="#1e1e1e" text-anchor="start" font-weight="500" stroke="#1e1e1e" stroke-width="0.25" textLength="58.7" lengthAdjust="spacingAndGlyphs" >4: Reserved</text>
<text x="623.9" y="827.6" font-family="Liberation Mono, serif" font-size="12.5" fill="#1e1e1e" text-anchor="start" font-weight="500" stroke="#1e1e1e" stroke-width="0.25" textLength="58.7" lengthAdjust="spacingAndGlyphs" >5: Reserved</text>
<text x="623.9" y="840.4" font-family="Liberation Mono, serif" font-size="12.5" fill="#1e1e1e" text-anchor="start" font-weight="500" stroke="#1e1e1e" stroke-width="0.25" textLength="42.7" lengthAdjust="spacingAndGlyphs" >6: Data-</text>
<text x="623.9" y="853.2" font-family="Liberation Mono, serif" font-size="12.5" fill="#1e1e1e" text-anchor="start" font-weight="500" stroke="#1e1e1e" stroke-width="0.25" textLength="26.7" lengthAdjust="spacingAndGlyphs" >7: 5V</text>
<text x="623.9" y="866.0" font-family="Liberation Mono, serif" font-size="12.5" fill="#1e1e1e" text-anchor="start" font-weight="500" stroke="#1e1e1e" stroke-width="0.25" textLength="32.0" lengthAdjust="spacingAndGlyphs" >8: GND</text>
<text x="442.6" y="752.0" font-family="Liberation Serif, serif" font-size="13.5" fill="#1e1e1e" text-anchor="start" font-weight="500" stroke="#1e1e1e" stroke-width="0.25" textLength="58.5" lengthAdjust="spacingAndGlyphs" >CN6 (RJ45)</text>
<text x="397.7" y="730.3" font-family="Liberation Serif, serif" font-size="12.5" fill="#1e1e1e" text-anchor="start" font-weight="500" stroke="#1e1e1e" stroke-width="0.25" textLength="17.4" lengthAdjust="spacingAndGlyphs" >SW5</text>
<rect x="402" y="732.5" width="10" height="36" rx="0" stroke="#1a1a1a" stroke-width="1.1" fill="#fff" />
<rect x="405" y="754.5" width="3" height="13" rx="0" stroke="#1a1a1a" stroke-width="1.0" fill="#fff" />
<text x="413.9" y="742.5" font-family="Liberation Serif, serif" font-size="12.5" fill="#1e1e1e" text-anchor="start" font-weight="500" stroke="#1e1e1e" stroke-width="0.25" textLength="13" lengthAdjust="spacingAndGlyphs" >ON</text>
<text x="414" y="765.2" font-family="Liberation Serif, serif" font-size="12.5" fill="#1e1e1e" text-anchor="start" font-weight="500" stroke="#1e1e1e" stroke-width="0.25" textLength="17" lengthAdjust="spacingAndGlyphs" >OFF</text>
<line x1="154" y1="246" x2="154" y2="485.8" stroke="#1a1a1a" stroke-width="1.35" />
<line x1="153.6" y1="246.5" x2="179.1" y2="246.5" stroke="#1a1a1a" stroke-width="1.15" />
<circle cx="181.1" cy="246" r="2.0" stroke="#1a1a1a" stroke-width="1.0" fill="#fff"/>
<circle cx="191.9" cy="246" r="2.0" stroke="#1a1a1a" stroke-width="1.0" fill="#fff"/>
<line x1="179.3" y1="242.5" x2="194.1" y2="242.5" stroke="#1a1a1a" stroke-width="1.15" />
<line x1="193.9" y1="246.5" x2="224.5" y2="246.5" stroke="#1a1a1a" stroke-width="1.15" />
<line x1="153.6" y1="272.5" x2="179.1" y2="272.5" stroke="#1a1a1a" stroke-width="1.15" />
<circle cx="181.1" cy="272.5" r="2.0" stroke="#1a1a1a" stroke-width="1.0" fill="#fff"/>
<circle cx="191.9" cy="272.5" r="2.0" stroke="#1a1a1a" stroke-width="1.0" fill="#fff"/>
<line x1="179.3" y1="268.5" x2="194.1" y2="268.5" stroke="#1a1a1a" stroke-width="1.15" />
<line x1="193.9" y1="272.5" x2="224.5" y2="272.5" stroke="#1a1a1a" stroke-width="1.15" />
<circle cx="153.6" cy="272.5" r="2.6" fill="#1a1a1a"/>
<line x1="153.6" y1="299.5" x2="179.1" y2="299.5" stroke="#1a1a1a" stroke-width="1.15" />
<circle cx="181.1" cy="299" r="2.0" stroke="#1a1a1a" stroke-width="1.0" fill="#fff"/>
<circle cx="191.9" cy="299" r="2.0" stroke="#1a1a1a" stroke-width="1.0" fill="#fff"/>
<line x1="179.3" y1="295.5" x2="194.1" y2="295.5" stroke="#1a1a1a" stroke-width="1.15" />
<line x1="193.9" y1="299.5" x2="224.5" y2="299.5" stroke="#1a1a1a" stroke-width="1.15" />
<circle cx="153.6" cy="299" r="2.6" fill="#1a1a1a"/>
<line x1="153.6" y1="325.5" x2="179.1" y2="325.5" stroke="#1a1a1a" stroke-width="1.15" />
<circle cx="181.1" cy="325.6" r="2.0" stroke="#1a1a1a" stroke-width="1.0" fill="#fff"/>
<circle cx="191.9" cy="325.6" r="2.0" stroke="#1a1a1a" stroke-width="1.0" fill="#fff"/>
<line x1="179.3" y1="321.5" x2="194.1" y2="321.5" stroke="#1a1a1a" stroke-width="1.15" />
<line x1="193.9" y1="325.5" x2="224.5" y2="325.5" stroke="#1a1a1a" stroke-width="1.15" />
<circle cx="153.6" cy="325.6" r="2.6" fill="#1a1a1a"/>
<line x1="153.6" y1="352.5" x2="179.1" y2="352.5" stroke="#1a1a1a" stroke-width="1.15" />
<circle cx="181.1" cy="352.5" r="2.0" stroke="#1a1a1a" stroke-width="1.0" fill="#fff"/>
<circle cx="191.9" cy="352.5" r="2.0" stroke="#1a1a1a" stroke-width="1.0" fill="#fff"/>
<line x1="179.3" y1="348.5" x2="194.1" y2="348.5" stroke="#1a1a1a" stroke-width="1.15" />
<line x1="193.9" y1="352.5" x2="224.5" y2="352.5" stroke="#1a1a1a" stroke-width="1.15" />
<circle cx="153.6" cy="352.5" r="2.6" fill="#1a1a1a"/>
<line x1="153.6" y1="379.5" x2="179.1" y2="379.5" stroke="#1a1a1a" stroke-width="1.15" />
<circle cx="181.1" cy="379.2" r="2.0" stroke="#1a1a1a" stroke-width="1.0" fill="#fff"/>
<circle cx="191.9" cy="379.2" r="2.0" stroke="#1a1a1a" stroke-width="1.0" fill="#fff"/>
<line x1="179.3" y1="375.5" x2="194.1" y2="375.5" stroke="#1a1a1a" stroke-width="1.15" />
<line x1="193.9" y1="379.5" x2="224.5" y2="379.5" stroke="#1a1a1a" stroke-width="1.15" />
<circle cx="153.6" cy="379.2" r="2.6" fill="#1a1a1a"/>
<line x1="153.6" y1="485.5" x2="224.5" y2="485.5" stroke="#1a1a1a" stroke-width="1.15" />
<rect x="206.9" y="235.3" width="13.4" height="261.1" rx="6.700000000000003" stroke="#333" stroke-width="1.25" fill="none" stroke-dasharray="3,1.4"/>
<line x1="213" y1="496.4" x2="213" y2="526.6" stroke="#1a1a1a" stroke-width="1.35" />
<circle cx="213.4" cy="514" r="2.6" fill="#1a1a1a"/>
<line x1="213.4" y1="514.5" x2="224.5" y2="514.5" stroke="#1a1a1a" stroke-width="1.15" />
<rect x="207.1" y="526.6" width="13.4" height="181.7" rx="6.700000000000003" stroke="#333" stroke-width="1.25" fill="none" stroke-dasharray="3,1.4"/>
<text x="238.1" y="251.4" font-family="Liberation Serif, serif" font-size="13.5" fill="#1e1e1e" text-anchor="start" font-weight="500" stroke="#1e1e1e" stroke-width="0.25" textLength="11.5" lengthAdjust="spacingAndGlyphs" >S1</text>
<text x="238.1" y="277.9" font-family="Liberation Serif, serif" font-size="13.5" fill="#1e1e1e" text-anchor="start" font-weight="500" stroke="#1e1e1e" stroke-width="0.25" textLength="11.5" lengthAdjust="spacingAndGlyphs" >S2</text>
<text x="238.1" y="304.4" font-family="Liberation Serif, serif" font-size="13.5" fill="#1e1e1e" text-anchor="start" font-weight="500" stroke="#1e1e1e" stroke-width="0.25" textLength="11.5" lengthAdjust="spacingAndGlyphs" >S3</text>
<text x="238.1" y="331.0" font-family="Liberation Serif, serif" font-size="13.5" fill="#1e1e1e" text-anchor="start" font-weight="500" stroke="#1e1e1e" stroke-width="0.25" textLength="11.5" lengthAdjust="spacingAndGlyphs" >S4</text>
<text x="238.1" y="357.9" font-family="Liberation Serif, serif" font-size="13.5" fill="#1e1e1e" text-anchor="start" font-weight="500" stroke="#1e1e1e" stroke-width="0.25" textLength="11.5" lengthAdjust="spacingAndGlyphs" >S5</text>
<text x="238.1" y="384.59999999999997" font-family="Liberation Serif, serif" font-size="13.5" fill="#1e1e1e" text-anchor="start" font-weight="500" stroke="#1e1e1e" stroke-width="0.25" textLength="11.5" lengthAdjust="spacingAndGlyphs" >S6</text>
<text x="146.6" y="249.8" font-family="Liberation Serif, serif" font-size="12" fill="#1e1e1e" text-anchor="end" font-weight="500" stroke="#1e1e1e" stroke-width="0.25" textLength="77" lengthAdjust="spacingAndGlyphs" >正向运转／停止</text>
<text x="146.6" y="276.3" font-family="Liberation Serif, serif" font-size="12" fill="#1e1e1e" text-anchor="end" font-weight="500" stroke="#1e1e1e" stroke-width="0.25" textLength="76.5" lengthAdjust="spacingAndGlyphs" >反向运转／停止</text>
<text x="146.6" y="302.8" font-family="Liberation Serif, serif" font-size="12" fill="#1e1e1e" text-anchor="end" font-weight="500" stroke="#1e1e1e" stroke-width="0.25" textLength="81" lengthAdjust="spacingAndGlyphs" >UP／增频率命令</text>
<text x="146.6" y="329.4" font-family="Liberation Serif, serif" font-size="12" fill="#1e1e1e" text-anchor="end" font-weight="500" stroke="#1e1e1e" stroke-width="0.25" textLength="102" lengthAdjust="spacingAndGlyphs" >DOWN／减频率命令</text>
<text x="146.6" y="356.3" font-family="Liberation Serif, serif" font-size="12" fill="#1e1e1e" text-anchor="end" font-weight="500" stroke="#1e1e1e" stroke-width="0.25" textLength="63.5" lengthAdjust="spacingAndGlyphs" >多段速指令1</text>
<text x="146.6" y="383.0" font-family="Liberation Serif, serif" font-size="12" fill="#1e1e1e" text-anchor="end" font-weight="500" stroke="#1e1e1e" stroke-width="0.25" textLength="46" lengthAdjust="spacingAndGlyphs" >故障重置</text>
<path d="M43.6,237.7 Q40.6,237.7 40.6,240.7 L40.6,359 Q40.6,362 37.6,362 Q40.6,362 40.6,365 L40.6,482.8 Q40.6,485.8 43.6,485.8" stroke="#1a1a1a" stroke-width="1.35" fill="none" stroke-linejoin="miter" />
<text x="25.7" y="348.1" font-family="Liberation Serif, serif" font-size="12.5" fill="#1e1e1e" text-anchor="middle" font-weight="500" stroke="#1e1e1e" stroke-width="0.25" >出</text>
<text x="25.7" y="361.7" font-family="Liberation Serif, serif" font-size="12.5" fill="#1e1e1e" text-anchor="middle" font-weight="500" stroke="#1e1e1e" stroke-width="0.25" >厂</text>
<text x="25.7" y="375.3" font-family="Liberation Serif, serif" font-size="12.5" fill="#1e1e1e" text-anchor="middle" font-weight="500" stroke="#1e1e1e" stroke-width="0.25" >设</text>
<text x="25.7" y="388.9" font-family="Liberation Serif, serif" font-size="12.5" fill="#1e1e1e" text-anchor="middle" font-weight="500" stroke="#1e1e1e" stroke-width="0.25" >定</text>
<text x="263.3" y="305.4" font-family="Liberation Serif, serif" font-size="12.5" fill="#1e1e1e" text-anchor="middle" font-weight="500" stroke="#1e1e1e" stroke-width="0.25" >多</text>
<text x="263.3" y="318.9" font-family="Liberation Serif, serif" font-size="12.5" fill="#1e1e1e" text-anchor="middle" font-weight="500" stroke="#1e1e1e" stroke-width="0.25" >机</text>
<text x="263.3" y="332.3" font-family="Liberation Serif, serif" font-size="12.5" fill="#1e1e1e" text-anchor="middle" font-weight="500" stroke="#1e1e1e" stroke-width="0.25" >能</text>
<text x="263.3" y="345.8" font-family="Liberation Serif, serif" font-size="12.5" fill="#1e1e1e" text-anchor="middle" font-weight="500" stroke="#1e1e1e" stroke-width="0.25" >接</text>
<text x="263.3" y="359.3" font-family="Liberation Serif, serif" font-size="12.5" fill="#1e1e1e" text-anchor="middle" font-weight="500" stroke="#1e1e1e" stroke-width="0.25" >点</text>
<text x="263.3" y="372.8" font-family="Liberation Serif, serif" font-size="12.5" fill="#1e1e1e" text-anchor="middle" font-weight="500" stroke="#1e1e1e" stroke-width="0.25" >输</text>
<text x="263.3" y="386.2" font-family="Liberation Serif, serif" font-size="12.5" fill="#1e1e1e" text-anchor="middle" font-weight="500" stroke="#1e1e1e" stroke-width="0.25" >入</text>
<text x="280" y="328.2" font-family="Liberation Serif, serif" font-size="13" fill="#1e1e1e" text-anchor="start" font-weight="500" stroke="#1e1e1e" stroke-width="0.25" textLength="28.7" lengthAdjust="spacingAndGlyphs" >SW3*2</text>
<rect x="287" y="333.5" width="9" height="37" rx="0" stroke="#1a1a1a" stroke-width="1.1" fill="#fff" />
<rect x="290" y="354.5" width="3" height="12" rx="0" stroke="#1a1a1a" stroke-width="1.0" fill="#fff" />
<text x="300.6" y="345.7" font-family="Liberation Serif, serif" font-size="13.5" fill="#1e1e1e" text-anchor="start" font-weight="500" stroke="#1e1e1e" stroke-width="0.25" textLength="63.4" lengthAdjust="spacingAndGlyphs" >Source(PNP)</text>
<text x="300.6" y="367.1" font-family="Liberation Serif, serif" font-size="11.5" fill="#1e1e1e" text-anchor="start" font-weight="500" stroke="#1e1e1e" stroke-width="0.25" textLength="105.8" lengthAdjust="spacingAndGlyphs" >Sink(NPN),出厂设定</text>
<text x="249.9" y="466.5" font-family="Liberation Serif, serif" font-size="13.5" fill="#1e1e1e" text-anchor="start" font-weight="500" stroke="#1e1e1e" stroke-width="0.25" textLength="17" lengthAdjust="spacingAndGlyphs" >24V</text>
<text x="282.3" y="465.7" font-family="Liberation Serif, serif" font-size="11.5" fill="#1e1e1e" text-anchor="start" font-weight="500" stroke="#1e1e1e" stroke-width="0.25" textLength="92.7" lengthAdjust="spacingAndGlyphs" >数位信号电源端子</text>
<text x="249.9" y="489.9" font-family="Liberation Serif, serif" font-size="13.5" fill="#1e1e1e" text-anchor="start" font-weight="500" stroke="#1e1e1e" stroke-width="0.25" textLength="23" lengthAdjust="spacingAndGlyphs" >24VG</text>
<text x="282.3" y="489.1" font-family="Liberation Serif, serif" font-size="11.5" fill="#1e1e1e" text-anchor="start" font-weight="500" stroke="#1e1e1e" stroke-width="0.25" textLength="92.7" lengthAdjust="spacingAndGlyphs" >数位信号共同端子</text>
<path d="M 232,485.5 H 244 V 494.5" stroke="#1a1a1a" stroke-width="1.25" fill="none" stroke-linejoin="miter" />
<path d="M240.05,494 L247.55,494 L243.8,501.5 Z" stroke="#1a1a1a" stroke-width="1.0" fill="#1a1a1a" stroke-linejoin="miter" />
<path d="M 232,514.5 H 244 V 521.5" stroke="#1a1a1a" stroke-width="1.25" fill="none" stroke-linejoin="miter" />
<line x1="238.4" y1="521.5" x2="249.2" y2="521.5" stroke="#1a1a1a" stroke-width="1.15" />
<line x1="238.9" y1="521.5" x2="236.5" y2="525.7" stroke="#1a1a1a" stroke-width="1.5" />
<line x1="243.8" y1="521.5" x2="241.4" y2="525.7" stroke="#1a1a1a" stroke-width="1.5" />
<line x1="248.7" y1="521.5" x2="246.3" y2="525.7" stroke="#1a1a1a" stroke-width="1.5" />
<text x="251.9" y="524.4" font-family="Liberation Serif, serif" font-size="13.5" fill="#1e1e1e" text-anchor="start" font-weight="500" stroke="#1e1e1e" stroke-width="0.25" textLength="6.5" lengthAdjust="spacingAndGlyphs" >E</text>
<text x="282.3" y="524.1" font-family="Liberation Serif, serif" font-size="11.5" fill="#1e1e1e" text-anchor="start" font-weight="500" stroke="#1e1e1e" stroke-width="0.25" textLength="80" lengthAdjust="spacingAndGlyphs" >遮蔽线连接端子</text>
<text x="241.4" y="547.9" font-family="Liberation Serif, serif" font-size="13.5" fill="#1e1e1e" text-anchor="start" font-weight="500" stroke="#1e1e1e" stroke-width="0.25" textLength="22.5" lengthAdjust="spacingAndGlyphs" >+10V</text>
<text x="274.3" y="547.1" font-family="Liberation Serif, serif" font-size="11.5" fill="#1e1e1e" text-anchor="start" font-weight="500" stroke="#1e1e1e" stroke-width="0.25" textLength="143" lengthAdjust="spacingAndGlyphs" >模拟输入用电源 +10V, 20mA</text>
<line x1="154.7" y1="542.5" x2="224.5" y2="542.5" stroke="#1a1a1a" stroke-width="1.15" />
<line x1="80" y1="570.5" x2="224.5" y2="570.5" stroke="#1a1a1a" stroke-width="1.15" />
<line x1="80" y1="602.5" x2="224.5" y2="602.5" stroke="#1a1a1a" stroke-width="1.15" />
<line x1="80" y1="629.5" x2="224.5" y2="629.5" stroke="#1a1a1a" stroke-width="1.15" />
<line x1="178.2" y1="662.5" x2="224.5" y2="662.5" stroke="#1a1a1a" stroke-width="1.15" />
<line x1="80.4" y1="701.5" x2="224.5" y2="701.5" stroke="#1a1a1a" stroke-width="1.15" />
<path d="M193.1,568.2 L189.35,575.5 L196.85,575.5 Z" stroke="#1a1a1a" stroke-width="0.6" fill="#1a1a1a" stroke-linejoin="miter" />
<path d="M178,603.5 L174.25,610 L181.75,610 Z" stroke="#1a1a1a" stroke-width="0.6" fill="#1a1a1a" stroke-linejoin="miter" />
<path d="M178,629.3 L174.25,622.4 L181.75,622.4 Z" stroke="#1a1a1a" stroke-width="0.6" fill="#1a1a1a" stroke-linejoin="miter" />
<path d="M193.2,629.3 L189.45,623 L196.95,623 Z" stroke="#1a1a1a" stroke-width="0.6" fill="#1a1a1a" stroke-linejoin="miter" />
<path d="M193.2,629.3 L189.45,636.2 L196.95,636.2 Z" stroke="#1a1a1a" stroke-width="0.6" fill="#1a1a1a" stroke-linejoin="miter" />
<path d="M192.6,701.4 L188.85,695.2 L196.35,695.2 Z" stroke="#1a1a1a" stroke-width="0.6" fill="#1a1a1a" stroke-linejoin="miter" />
<text x="196" y="601.6" font-family="Liberation Serif, serif" font-size="13" fill="#1e1e1e" text-anchor="start" font-weight="500" stroke="#1e1e1e" stroke-width="0.25" textLength="6.3" lengthAdjust="spacingAndGlyphs" >P</text>
<text x="180.9" y="620.2" font-family="Liberation Serif, serif" font-size="13" fill="#1e1e1e" text-anchor="start" font-weight="500" stroke="#1e1e1e" stroke-width="0.25" textLength="6.3" lengthAdjust="spacingAndGlyphs" >P</text>
<text x="196" y="675" font-family="Liberation Serif, serif" font-size="13" fill="#1e1e1e" text-anchor="start" font-weight="500" stroke="#1e1e1e" stroke-width="0.25" textLength="6.3" lengthAdjust="spacingAndGlyphs" >P</text>
<text x="86.1" y="567" font-family="Liberation Serif, serif" font-size="13" fill="#1e1e1e" text-anchor="start" font-weight="500" stroke="#1e1e1e" stroke-width="0.25" textLength="29" lengthAdjust="spacingAndGlyphs" >0~10V</text>
<text x="87" y="600.4" font-family="Liberation Serif, serif" font-size="13" fill="#1e1e1e" text-anchor="start" font-weight="500" stroke="#1e1e1e" stroke-width="0.25" textLength="70" lengthAdjust="spacingAndGlyphs" >4~20mA/0~10V</text>
<text x="88.9" y="626.8" font-family="Liberation Serif, serif" font-size="13" fill="#1e1e1e" text-anchor="start" font-weight="500" stroke="#1e1e1e" stroke-width="0.25" textLength="12" lengthAdjust="spacingAndGlyphs" >0V</text>
<path d="M 232,629.5 H 236 V 640.5" stroke="#1a1a1a" stroke-width="1.25" fill="none" stroke-linejoin="miter" />
<path d="M231.85,640.6 L239.35,640.6 L235.6,645.2 Z" stroke="#1a1a1a" stroke-width="1.0" fill="#fff" stroke-linejoin="miter" />
<path d="M60.7,532.7 Q57.7,532.7 57.7,535.7 L57.7,597 Q57.7,600 54.7,600 Q57.7,600 57.7,603 L57.7,662.5 Q57.7,665.5 60.7,665.5" stroke="#1a1a1a" stroke-width="1.35" fill="none" stroke-linejoin="miter" />
<text x="41" y="574.8" font-family="Liberation Serif, serif" font-size="12.5" fill="#1e1e1e" text-anchor="middle" font-weight="500" stroke="#1e1e1e" stroke-width="0.25" >外</text>
<text x="41" y="588.2" font-family="Liberation Serif, serif" font-size="12.5" fill="#1e1e1e" text-anchor="middle" font-weight="500" stroke="#1e1e1e" stroke-width="0.25" >部</text>
<text x="41" y="601.6" font-family="Liberation Serif, serif" font-size="12.5" fill="#1e1e1e" text-anchor="middle" font-weight="500" stroke="#1e1e1e" stroke-width="0.25" >模</text>
<text x="41" y="615.0" font-family="Liberation Serif, serif" font-size="12.5" fill="#1e1e1e" text-anchor="middle" font-weight="500" stroke="#1e1e1e" stroke-width="0.25" >拟</text>
<text x="41" y="628.4" font-family="Liberation Serif, serif" font-size="12.5" fill="#1e1e1e" text-anchor="middle" font-weight="500" stroke="#1e1e1e" stroke-width="0.25" >输</text>
<text x="41" y="641.8" font-family="Liberation Serif, serif" font-size="12.5" fill="#1e1e1e" text-anchor="middle" font-weight="500" stroke="#1e1e1e" stroke-width="0.25" >入</text>
<path d="M 81,697.5 H 88 V 690.5 H 95 V 697.5 H 103 V 690.5 H 112 V 697.5 H 117" stroke="#1a1a1a" stroke-width="1.25" fill="none" stroke-linejoin="miter" />
<text x="120.3" y="697.9" font-family="Liberation Serif, serif" font-size="11.5" fill="#1e1e1e" text-anchor="start" font-weight="500" stroke="#1e1e1e" stroke-width="0.25" textLength="46.5" lengthAdjust="spacingAndGlyphs" >脉波输入</text>
<text x="243.6" y="573.8" font-family="Liberation Serif, serif" font-size="11.5" fill="#1e1e1e" text-anchor="start" font-weight="500" stroke="#1e1e1e" stroke-width="0.25" textLength="104" lengthAdjust="spacingAndGlyphs" >AI1 多机能模拟输入</text>
<text x="243.6" y="590.2" font-family="Liberation Serif, serif" font-size="11.5" fill="#1e1e1e" text-anchor="start" font-weight="500" stroke="#1e1e1e" stroke-width="0.25" textLength="80.4" lengthAdjust="spacingAndGlyphs" >(0~10V, 20KΩ)</text>
<text x="243.6" y="605.6" font-family="Liberation Serif, serif" font-size="11.5" fill="#1e1e1e" text-anchor="start" font-weight="500" stroke="#1e1e1e" stroke-width="0.25" textLength="104" lengthAdjust="spacingAndGlyphs" >AI2 多机能模拟输入</text>
<text x="243.6" y="621.3" font-family="Liberation Serif, serif" font-size="11.5" fill="#1e1e1e" text-anchor="start" font-weight="500" stroke="#1e1e1e" stroke-width="0.25" textLength="120.4" lengthAdjust="spacingAndGlyphs" >(0~10V/4~20mA, 250Ω)</text>
<text x="242.9" y="638.7" font-family="Liberation Serif, serif" font-size="11.5" fill="#1e1e1e" text-anchor="start" font-weight="500" stroke="#1e1e1e" stroke-width="0.25" textLength="113" lengthAdjust="spacingAndGlyphs" >GND 模拟信号共同端子</text>
<text x="239" y="671.4" font-family="Liberation Serif, serif" font-size="11.5" fill="#1e1e1e" text-anchor="start" font-weight="500" stroke="#1e1e1e" stroke-width="0.25" textLength="141.4" lengthAdjust="spacingAndGlyphs" >MT PTC马达温度检出器输入</text>
<text x="244.6" y="705.8" font-family="Liberation Serif, serif" font-size="11.5" fill="#1e1e1e" text-anchor="start" font-weight="500" stroke="#1e1e1e" stroke-width="0.25" textLength="157" lengthAdjust="spacingAndGlyphs" >PI 脉波指令输入 32K Hz. Max.</text>
<text x="398.5" y="578.6" font-family="Liberation Serif, serif" font-size="12.5" fill="#1e1e1e" text-anchor="start" font-weight="500" stroke="#1e1e1e" stroke-width="0.25" textLength="27.8" lengthAdjust="spacingAndGlyphs" >SW2*3</text>
<rect x="402" y="580.5" width="10" height="35" rx="0" stroke="#1a1a1a" stroke-width="1.1" fill="#fff" />
<rect x="405" y="601.5" width="4" height="11" rx="0" stroke="#1a1a1a" stroke-width="1.0" fill="#fff" />
<text x="415.8" y="592.6" font-family="Liberation Serif, serif" font-size="13.5" fill="#1e1e1e" text-anchor="start" font-weight="500" stroke="#1e1e1e" stroke-width="0.25" textLength="6.5" lengthAdjust="spacingAndGlyphs" >V</text>
<text x="418.1" y="617.3" font-family="Liberation Serif, serif" font-size="11.5" fill="#1e1e1e" text-anchor="start" font-weight="500" stroke="#1e1e1e" stroke-width="0.25" textLength="67" lengthAdjust="spacingAndGlyphs" >I ，出厂设定</text>
<path d="M 225,748.5 H 210 M 195,748.5 H 184 V 767.5 H 225" stroke="#1a1a1a" stroke-width="1.25" fill="none" stroke-linejoin="miter" />
<circle cx="196.5" cy="748.4" r="2.0" stroke="#1a1a1a" stroke-width="1.1" fill="#fff"/>
<circle cx="207.6" cy="748.4" r="2.0" stroke="#1a1a1a" stroke-width="1.1" fill="#fff"/>
<line x1="195.2" y1="751.5" x2="209.4" y2="751.5" stroke="#1a1a1a" stroke-width="1.15" />
<circle cx="228" cy="246" r="3.5" stroke="#1a1a1a" stroke-width="1.1" fill="#fff"/>
<circle cx="228" cy="272.5" r="3.5" stroke="#1a1a1a" stroke-width="1.1" fill="#fff"/>
<circle cx="228" cy="299" r="3.5" stroke="#1a1a1a" stroke-width="1.1" fill="#fff"/>
<circle cx="228" cy="325.6" r="3.5" stroke="#1a1a1a" stroke-width="1.1" fill="#fff"/>
<circle cx="228" cy="352.5" r="3.5" stroke="#1a1a1a" stroke-width="1.1" fill="#fff"/>
<circle cx="228" cy="379.2" r="3.5" stroke="#1a1a1a" stroke-width="1.1" fill="#fff"/>
<circle cx="228" cy="461" r="3.5" stroke="#1a1a1a" stroke-width="1.1" fill="#fff"/>
<circle cx="228" cy="485.8" r="3.5" stroke="#1a1a1a" stroke-width="1.1" fill="#fff"/>
<circle cx="228" cy="514" r="3.5" stroke="#1a1a1a" stroke-width="1.1" fill="#fff"/>
<circle cx="228" cy="542.7" r="3.5" stroke="#1a1a1a" stroke-width="1.1" fill="#fff"/>
<circle cx="228" cy="570.7" r="3.5" stroke="#1a1a1a" stroke-width="1.1" fill="#fff"/>
<circle cx="228" cy="602.8" r="3.5" stroke="#1a1a1a" stroke-width="1.1" fill="#fff"/>
<circle cx="228" cy="629.3" r="3.5" stroke="#1a1a1a" stroke-width="1.1" fill="#fff"/>
<circle cx="228" cy="662.6" r="3.5" stroke="#1a1a1a" stroke-width="1.1" fill="#fff"/>
<circle cx="228" cy="701.4" r="3.5" stroke="#1a1a1a" stroke-width="1.1" fill="#fff"/>
<circle cx="228" cy="748.4" r="3.5" stroke="#1a1a1a" stroke-width="1.1" fill="#fff"/>
<circle cx="228" cy="767.8" r="3.5" stroke="#1a1a1a" stroke-width="1.1" fill="#fff"/>
<text x="244.2" y="753.2" font-family="Liberation Serif, serif" font-size="13.5" fill="#1e1e1e" text-anchor="start" font-weight="500" stroke="#1e1e1e" stroke-width="0.25" textLength="11" lengthAdjust="spacingAndGlyphs" >F1</text>
<text x="244.2" y="773.4" font-family="Liberation Serif, serif" font-size="13.5" fill="#1e1e1e" text-anchor="start" font-weight="500" stroke="#1e1e1e" stroke-width="0.25" textLength="11" lengthAdjust="spacingAndGlyphs" >F2</text>
<text x="270.4" y="761.0" font-family="Liberation Serif, serif" font-size="11.5" fill="#1e1e1e" text-anchor="start" font-weight="500" stroke="#1e1e1e" stroke-width="0.25" textLength="84.6" lengthAdjust="spacingAndGlyphs" >安全输入接点 *4</text>
<rect x="36.3" y="727.6" width="7.6" height="24.9" rx="3.8000000000000007" stroke="#333" stroke-width="1.25" fill="none" stroke-dasharray="3,1.4"/>
<text x="56" y="746.3" font-family="Liberation Sans, serif" font-size="10" fill="#1e1e1e" text-anchor="start" font-weight="500" stroke="#1e1e1e" stroke-width="0.25" textLength="40.8" lengthAdjust="spacingAndGlyphs" >表隔离线</text>
<rect x="36.6" y="760.5" width="7" height="24.5" rx="3.5" stroke="#1a1a1a" stroke-width="1.0" fill="none" stroke-dasharray="2,1.5"/>
<path d="M40.1,760.5 L37.3,765.5 L42.9,765.5 Z" stroke="#1a1a1a" stroke-width="0.5" fill="#1a1a1a" stroke-linejoin="miter" />
<path d="M40.1,785 L37.3,780 L42.9,780 Z" stroke="#1a1a1a" stroke-width="0.5" fill="#1a1a1a" stroke-linejoin="miter" />
<text x="46.2" y="777.3" font-family="Liberation Serif, serif" font-size="10" fill="#1e1e1e" text-anchor="start" font-weight="500" stroke="#1e1e1e" stroke-width="0.25" textLength="6" lengthAdjust="spacingAndGlyphs" >P</text>
<text x="55.2" y="777.2" font-family="Liberation Sans, serif" font-size="10" fill="#1e1e1e" text-anchor="start" font-weight="500" stroke="#1e1e1e" stroke-width="0.25" textLength="80.8" lengthAdjust="spacingAndGlyphs" >表双绞芯隔离绞线</text>
<text x="35.9" y="809.0" font-family="Liberation Sans, serif" font-size="10" fill="#1e1e1e" text-anchor="start" font-weight="500" stroke="#1e1e1e" stroke-width="0.25" textLength="40.5" lengthAdjust="spacingAndGlyphs" >端子符号</text>
<circle cx="39.8" cy="826.5" r="3.6" stroke="#1a1a1a" stroke-width="1.1" fill="#fff"/>
<circle cx="39.8" cy="826.5" r="1.6" stroke="#1a1a1a" stroke-width="1.0" fill="#fff"/>
<text x="56" y="830.1" font-family="Liberation Sans, serif" font-size="10" fill="#1e1e1e" text-anchor="start" font-weight="500" stroke="#1e1e1e" stroke-width="0.25" textLength="50.6" lengthAdjust="spacingAndGlyphs" >表示主回路</text>
<circle cx="39.8" cy="853.7" r="2.8" stroke="#1a1a1a" stroke-width="1.1" fill="#fff"/>
<text x="57.5" y="857.3" font-family="Liberation Sans, serif" font-size="10" fill="#1e1e1e" text-anchor="start" font-weight="500" stroke="#1e1e1e" stroke-width="0.25" textLength="59.7" lengthAdjust="spacingAndGlyphs" >表示控制回路</text>
<text x="30" y="893.8" font-family="Liberation Sans, serif" font-size="10" fill="#1e1e1e" text-anchor="start" font-weight="500" stroke="#1e1e1e" stroke-width="0.25" >备注说明:</text>
<text x="30" y="916.9" font-family="Liberation Sans, serif" font-size="10" fill="#1e1e1e" text-anchor="start" font-weight="500" stroke="#1e1e1e" stroke-width="0.25" >1:</text>
<text x="46.4" y="916.9" font-family="Liberation Sans, serif" font-size="10" fill="#1e1e1e" text-anchor="start" font-weight="500" stroke="#1e1e1e" stroke-width="0.25" textLength="718.4" lengthAdjust="spacingAndGlyphs" >仅IP20 220V  5~30HP与440V 5~40HP(含)及IP55 440V 5~25HP容量内建刹晶体机种主回路提供B2端子，可直接于B1, B2间连接煞车电阻。其余依机种别而异。</text>
<text x="30" y="941.1" font-family="Liberation Sans, serif" font-size="10" fill="#1e1e1e" text-anchor="start" font-weight="500" stroke="#1e1e1e" stroke-width="0.25" >2:</text>
<text x="46.4" y="941.1" font-family="Liberation Sans, serif" font-size="10" fill="#1e1e1e" text-anchor="start" font-weight="500" stroke="#1e1e1e" stroke-width="0.25" textLength="383.6" lengthAdjust="spacingAndGlyphs" >多机能数字输入接点S1~S6，可透过开关SW3设置成Source(PNP)或Sink(NPN)模式。</text>
<text x="30" y="963.0" font-family="Liberation Sans, serif" font-size="10" fill="#1e1e1e" text-anchor="start" font-weight="500" stroke="#1e1e1e" stroke-width="0.25" >3:</text>
<text x="46.4" y="963.0" font-family="Liberation Sans, serif" font-size="10" fill="#1e1e1e" text-anchor="start" font-weight="500" stroke="#1e1e1e" stroke-width="0.25" textLength="445.4" lengthAdjust="spacingAndGlyphs" >多机能模拟输入2(AI2)，可透过开关SW2设置成电压命令输入(0~10V)或电流命令输入(4~20mA)。</text>
<text x="30" y="987.0" font-family="Liberation Sans, serif" font-size="10" fill="#1e1e1e" text-anchor="start" font-weight="500" stroke="#1e1e1e" stroke-width="0.25" >4:</text>
<text x="46.4" y="987.0" font-family="Liberation Sans, serif" font-size="10" fill="#1e1e1e" text-anchor="start" font-weight="500" stroke="#1e1e1e" stroke-width="0.25" textLength="452.6" lengthAdjust="spacingAndGlyphs" >安全输入接点F1, F2间需短接变频器始可正常输出，使用安全输入时，请务必拆下F1-F2间的短接线。</text>
</svg>
</body></html>
